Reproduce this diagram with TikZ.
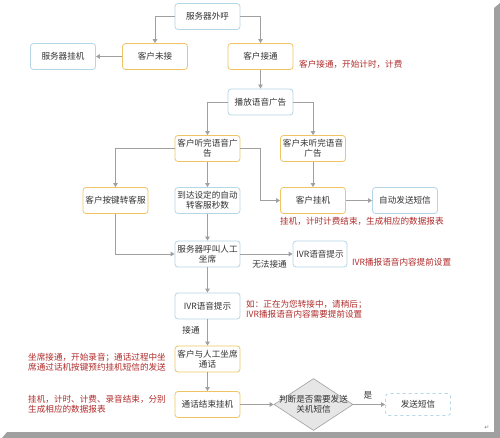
\documentclass[tikz,border=0pt]{standalone}
\usepackage{fontspec}
\setmainfont{Noto Sans CJK SC}
\newfontfamily\symfont{DejaVu Sans}
\usetikzlibrary{arrows.meta,shapes.geometric}
\definecolor{bblue}{HTML}{B4D6E8}
\definecolor{borange}{HTML}{F0C464}
\definecolor{lgray}{HTML}{A0A0A0}
\definecolor{txt}{HTML}{333333}
\definecolor{rtxt}{HTML}{B02A2A}
\definecolor{dfill}{HTML}{E6E6E6}
\tikzset{
  box/.style={draw, rounded corners=3pt, fill=white, minimum width=65pt, minimum height=26pt,
    inner sep=1pt, align=center, text=txt, font=\fontsize{8.6pt}{10pt}\selectfont, line width=0.8pt},
  bluebox/.style={box, draw=bblue},
  orbox/.style={box, draw=borange},
  conn/.style={draw=lgray, line width=0.8pt, -{Triangle[length=4pt,width=4.5pt]}},
  note/.style={text=rtxt, font=\fontsize{8.6pt}{10pt}\selectfont, align=left, inner sep=0pt, anchor=west},
  plain/.style={text=txt, font=\fontsize{8.6pt}{10pt}\selectfont, inner sep=0pt}
}
\begin{document}
\begin{tikzpicture}[x=1pt,y=-1pt]
\useasboundingbox (0,0) rectangle (500,438);
\fill[white] (0,0) rectangle (500,438);
\fill[lgray] (2,438) -- (7,432) -- (494,432) -- (494,8) -- (500,3) -- (500,438) -- cycle;

\node[bluebox] (out) at (207.5,16.5) {服务器外呼};
\node[orbox] (miss) at (155,56.5) {客户未接};
\node[bluebox] (srvhang) at (63,56.5) {服务器挂机};
\node[orbox] (conn) at (260.5,56.5) {客户接通};
\node[bluebox] (ad) at (260.5,102) {播放语音广告};
\node[orbox] (listen) at (207.5,148.5) {客户听完语音广\\告};
\node[orbox] (nolisten) at (313,148.5) {客户未听完语音\\广告};
\node[orbox] (key) at (115.5,200.5) {客户按键转客服};
\node[bluebox] (auto) at (207.5,200.5) {到达设定的自动\\转客服秒数};
\node[orbox] (hang) at (313,200.5) {客户挂机};
\node[bluebox] (autosms) at (405,200.5) {自动发送短信};
\node[bluebox] (call) at (207.5,254) {服务器呼叫人工\\坐席};
\node[bluebox, minimum width=54pt] (ivr2) at (320,254) {IVR语音提示};
\node[bluebox] (ivr) at (207.5,306) {IVR语音提示};
\node[orbox] (talk) at (207.5,359) {客户与人工坐席\\通话};
\node[orbox] (end) at (207.5,404.5) {通话结束挂机};
\node[draw=lgray, fill=dfill, diamond, minimum width=79pt, minimum height=52pt, inner sep=0pt, line width=0.6pt] (dec) at (313.5,404.5) {};
\node[plain, align=center] (dectxt) at (dec.center) {判断是否需要发送\\关机短信};
\node[bluebox, dashed, minimum height=22pt] (sms) at (418,404.5) {发送短信};

\draw[conn] (out.west) -| (miss.north);
\draw[conn] (out.east) -| (conn.north);
\draw[conn] (miss.west) -- (srvhang.east);
\draw[conn] (conn.south) -- (ad.north);
\draw[conn] (ad.west) -| (listen.north);
\draw[conn] (ad.east) -| (nolisten.north);
\draw[conn] (listen.west) -| (key.north);
\draw[conn] (listen.east) -- ++(20,0) |- (hang.west);
\draw[conn] (listen.south) -- (auto.north);
\draw[conn] (nolisten.south) -- (hang.north);
\draw[conn] (hang.east) -- (autosms.west);
\draw[conn] (auto.south) -- (call.north);
\draw[conn] (key.south) |- (call.west);
\draw[conn] (call.east) -- (ivr2.west);
\draw[conn] (call.south) -- (ivr.north);
\draw[conn] (ivr.south) -- (talk.north);
\draw[conn] (talk.south) -- (end.north);
\draw[conn] (end.east) -- (dec.west);
\draw[conn] (dec.east) -- (sms.west);

\node[note] (n1) at (299,64) {客户接通，开始计时，计费};
\node[note] (n2) at (280,221) {挂机，计时计费结束，生成相应的数据报表};
\node[note] (n3) at (352,262) {IVR播报语音内容提前设置};
\node[note] (n4) at (246,309) {如：正在为您转接中，请稍后；\\IVR播报语音内容需要提前设置};
\node[note] (n5) at (28,362) {坐席接通，开始录音；通话过程中坐\\席通过话机按键预约挂机短信的发送};
\node[note] (n6) at (28,404) {挂机，计时、计费、录音结束，分别\\生成相应的数据报表};
\node[plain] (l1) at (269.5,264) {无法接通};
\node[plain] (l2) at (191,330) {接通};
\node[plain] (l3) at (368,395) {是};
\node[text=gray, font=\symfont\fontsize{6pt}{7pt}\selectfont, inner sep=0pt] (ret) at (487,428) {↵};
\end{tikzpicture}
\end{document}
